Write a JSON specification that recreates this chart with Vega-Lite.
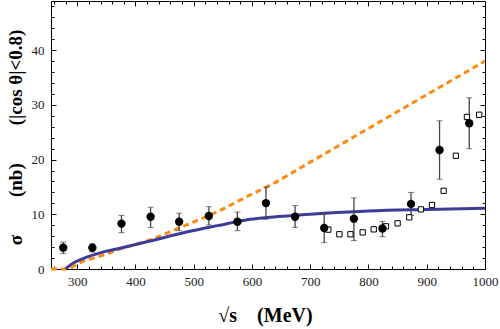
{
  "$schema": "https://vega.github.io/schema/vega-lite/v6.json",
  "width": 434,
  "height": 268,
  "autosize": {"type": "none"},
  "padding": {"left": 51, "top": 1, "right": 15, "bottom": 60},
  "background": "white",
  "config": {
    "view": {"stroke": null},
    "axis": {
      "grid": false,
      "domainColor": "#000",
      "domainWidth": 1,
      "tickColor": "#000",
      "tickWidth": 1,
      "labelColor": "#1a1a1a",
      "labelFont": "Liberation Serif",
      "labelFontSize": 13,
      "titleFont": "Liberation Serif",
      "titleFontWeight": "bold",
      "titleColor": "#000"
    }
  },
  "datasets": {
    "orange": [
      {"x": 255, "y": 0}, {"x": 280, "y": 0}, {"x": 312, "y": 1.5}, {"x": 341, "y": 2.4},
      {"x": 370, "y": 3.5}, {"x": 427, "y": 5.4}, {"x": 455, "y": 6.6}, {"x": 484, "y": 7.9},
      {"x": 541, "y": 10.5}, {"x": 598, "y": 13.6}, {"x": 631, "y": 15.3}, {"x": 688, "y": 18.8},
      {"x": 745, "y": 22.3}, {"x": 803, "y": 25.9}, {"x": 860, "y": 29.4}, {"x": 917, "y": 32.9},
      {"x": 974, "y": 36.4}, {"x": 1000, "y": 38.0}
    ],
    "blue": [
      {"x": 280, "y": 0}, {"x": 289, "y": 0.8}, {"x": 312, "y": 2.0}, {"x": 341, "y": 3.0},
      {"x": 370, "y": 3.7}, {"x": 427, "y": 5.15}, {"x": 484, "y": 6.66}, {"x": 541, "y": 7.93},
      {"x": 597, "y": 9.09}, {"x": 631, "y": 9.47}, {"x": 674, "y": 9.82}, {"x": 725, "y": 10.18},
      {"x": 800, "y": 10.6}, {"x": 900, "y": 10.88}, {"x": 1000, "y": 11.1}
    ],
    "points": [
      {"x": 276, "y": 3.9, "lo": 2.8, "hi": 4.9},
      {"x": 326, "y": 3.9, "lo": 3.1, "hi": 4.6},
      {"x": 376, "y": 8.3, "lo": 6.65, "hi": 9.8},
      {"x": 426, "y": 9.55, "lo": 7.6, "hi": 11.3},
      {"x": 475, "y": 8.65, "lo": 7.0, "hi": 10.2},
      {"x": 526, "y": 9.7, "lo": 8.05, "hi": 11.4},
      {"x": 575, "y": 8.65, "lo": 7.0, "hi": 10.4},
      {"x": 624, "y": 12.05, "lo": 9.1, "hi": 15.0},
      {"x": 674, "y": 9.55, "lo": 7.6, "hi": 11.6},
      {"x": 724, "y": 7.5, "lo": 4.8, "hi": 10.2},
      {"x": 775, "y": 9.2, "lo": 5.2, "hi": 13.0},
      {"x": 824, "y": 7.4, "lo": 5.9, "hi": 8.7},
      {"x": 873, "y": 11.9, "lo": 9.8, "hi": 14.0},
      {"x": 922, "y": 21.75, "lo": 16.4, "hi": 27.1},
      {"x": 973, "y": 26.65, "lo": 22.0, "hi": 31.3}
    ],
    "squares": [
      {"x": 731, "y": 7.2}, {"x": 750, "y": 6.35}, {"x": 769, "y": 6.35}, {"x": 790, "y": 6.7},
      {"x": 809, "y": 7.25}, {"x": 830, "y": 7.8}, {"x": 850, "y": 8.35}, {"x": 870, "y": 9.45},
      {"x": 890, "y": 10.9}, {"x": 909, "y": 11.7}, {"x": 929, "y": 14.3}, {"x": 950, "y": 20.7},
      {"x": 969, "y": 27.8}, {"x": 990, "y": 28.2}
    ]
  },
  "resolve": {"axis": {"x": "independent", "y": "independent"}},
  "layer": [
    {
      "data": {"name": "orange"},
      "mark": {"type": "line", "color": "#FF8A12", "strokeWidth": 3, "strokeDash": [6, 4], "interpolate": "monotone"},
      "encoding": {
        "x": {
          "field": "x", "type": "quantitative",
          "scale": {"domain": [255, 1000], "nice": false, "zero": false},
          "axis": {
            "orient": "bottom",
            "values": [260,280,300,320,340,360,380,400,420,440,460,480,500,520,540,560,580,600,620,640,660,680,700,720,740,760,780,800,820,840,860,880,900,920,940,960,980,1000],
            "labelExpr": "datum.value % 100 === 0 ? datum.value : ''",
            "tickSize": {"condition": {"test": "datum.value % 100 === 0", "value": -5}, "value": -3},
            "labelPadding": 11,
            "labelFont": "Liberation Serif",
            "labelFontSize": 13,
            "labelFlush": false,
            "labelOverlap": false,
            "title": "√s\u00a0\u00a0\u00a0\u00a0(MeV)",
            "titleFont": "Liberation Serif",
            "titleFontSize": 20,
            "titleX": 214,
            "titleY": 52,
            "titleAlign": "center",
            "titleBaseline": "alphabetic"
          }
        },
        "y": {
          "field": "y", "type": "quantitative",
          "scale": {"domain": [0, 49], "nice": false, "zero": false},
          "axis": {
            "orient": "left",
            "values": [0,2,4,6,8,10,12,14,16,18,20,22,24,26,28,30,32,34,36,38,40,42,44,46,48],
            "labelExpr": "datum.value % 10 === 0 ? datum.value : ''",
            "tickSize": {"condition": {"test": "datum.value % 10 === 0", "value": -5}, "value": -3},
            "labelPadding": 12,
            "labelFont": "Liberation Serif",
            "labelFontSize": 13,
            "labelFlush": false,
            "labelOverlap": false,
            "title": "σ\u00a0\u00a0\u00a0\u00a0\u00a0\u00a0\u00a0\u00a0(nb)\u00a0\u00a0\u00a0\u00a0\u00a0\u00a0\u00a0\u00a0(|cos θ|<0.8)",
            "titleFont": "Liberation Serif",
            "titleFontSize": 19,
            "titleAngle": 270,
            "titleX": -30,
            "titleY": 136,
            "titleAlign": "center",
            "titleBaseline": "alphabetic"
          }
        }
      }
    },
    {
      "data": {"name": "blue"},
      "mark": {"type": "line", "color": "#3D3D99", "strokeWidth": 3, "interpolate": "monotone"},
      "encoding": {
        "x": {
          "field": "x", "type": "quantitative",
          "scale": {"domain": [255, 1000], "nice": false, "zero": false},
          "axis": {
            "orient": "top",
            "values": [260,280,300,320,340,360,380,400,420,440,460,480,500,520,540,560,580,600,620,640,660,680,700,720,740,760,780,800,820,840,860,880,900,920,940,960,980,1000],
            "labels": false,
            "tickSize": {"condition": {"test": "datum.value % 100 === 0", "value": -5}, "value": -3},
            "title": null
          }
        },
        "y": {
          "field": "y", "type": "quantitative",
          "scale": {"domain": [0, 49], "nice": false, "zero": false},
          "axis": {
            "orient": "right",
            "values": [0,2,4,6,8,10,12,14,16,18,20,22,24,26,28,30,32,34,36,38,40,42,44,46,48],
            "labels": false,
            "tickSize": {"condition": {"test": "datum.value % 10 === 0", "value": -5}, "value": -3},
            "title": null
          }
        }
      }
    },
    {
      "data": {"name": "points"},
      "mark": {"type": "errorbar", "ticks": {"size": 6, "color": "#444", "strokeWidth": 1.3}, "rule": {"color": "#444", "strokeWidth": 1.3}},
      "encoding": {
        "x": {"field": "x", "type": "quantitative", "scale": {"domain": [255, 1000], "nice": false, "zero": false}, "axis": null},
        "y": {"field": "lo", "type": "quantitative", "scale": {"domain": [0, 49], "nice": false, "zero": false}, "axis": null},
        "y2": {"field": "hi"}
      }
    },
    {
      "data": {"name": "squares"},
      "mark": {"type": "point", "shape": "square", "filled": false, "fill": "white", "fillOpacity": 1, "stroke": "#000", "strokeWidth": 1, "size": 28, "opacity": 1},
      "encoding": {
        "x": {"field": "x", "type": "quantitative", "scale": {"domain": [255, 1000], "nice": false, "zero": false}, "axis": null},
        "y": {"field": "y", "type": "quantitative", "scale": {"domain": [0, 49], "nice": false, "zero": false}, "axis": null}
      }
    },
    {
      "data": {"name": "points"},
      "mark": {"type": "circle", "color": "#000", "size": 70, "opacity": 1},
      "encoding": {
        "x": {"field": "x", "type": "quantitative", "scale": {"domain": [255, 1000], "nice": false, "zero": false}, "axis": null},
        "y": {"field": "y", "type": "quantitative", "scale": {"domain": [0, 49], "nice": false, "zero": false}, "axis": null}
      }
    }
  ]
}
